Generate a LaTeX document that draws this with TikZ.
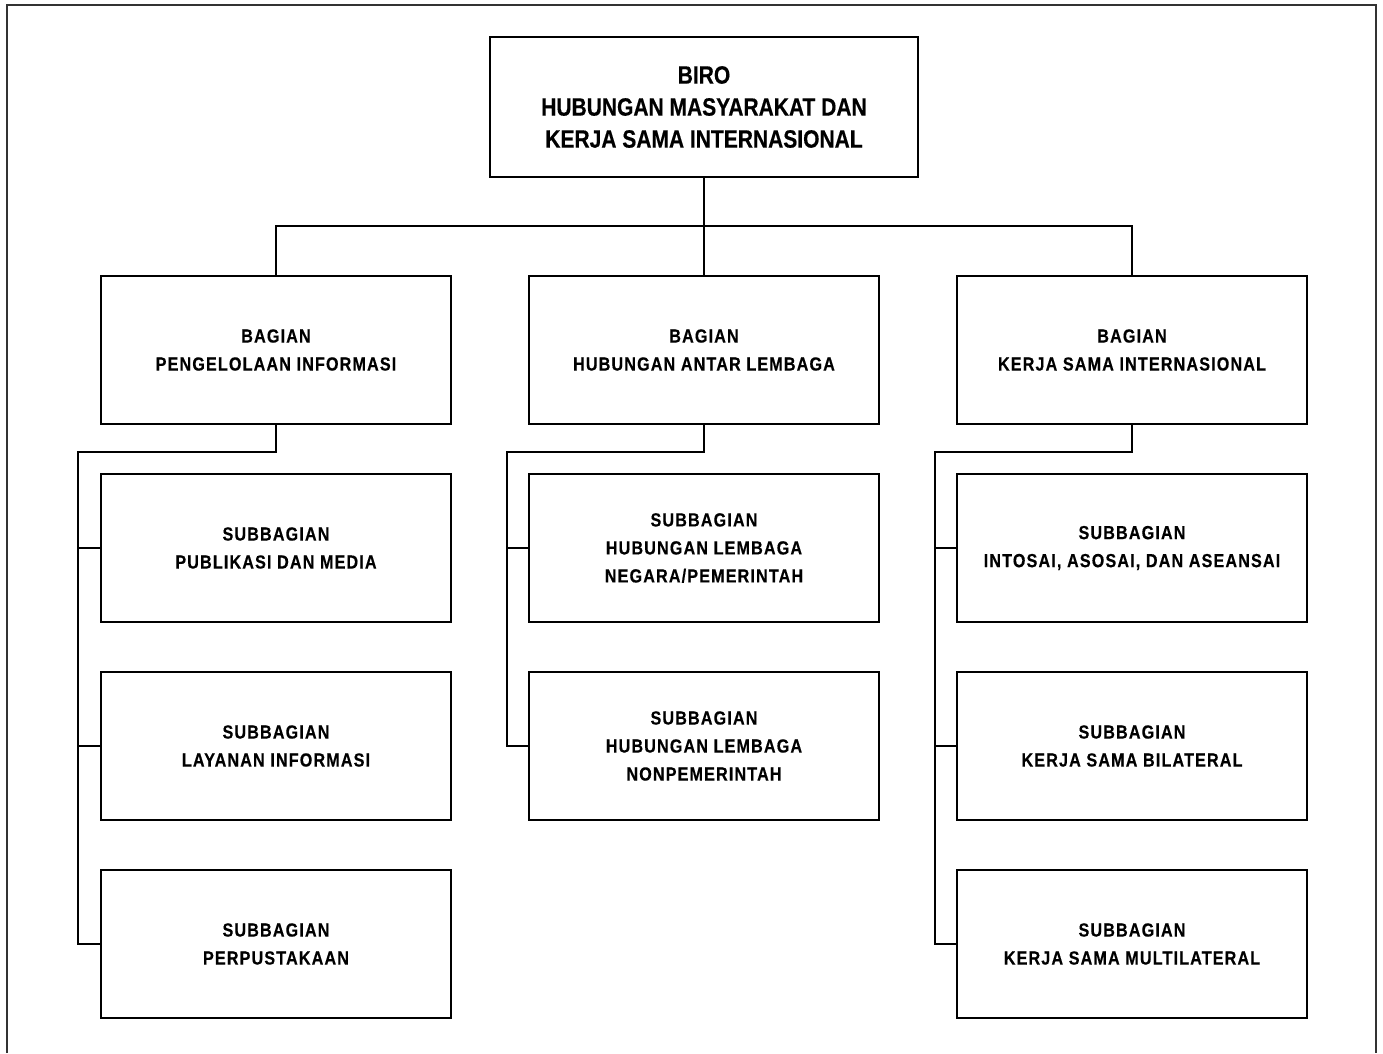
\documentclass[tikz,border=0pt]{standalone}
\usepackage{fontspec}
\setmainfont{Liberation Sans}[FakeStretch=0.85]
\newfontfamily\boxfont{Liberation Sans}[FakeStretch=0.85,LetterSpace=6,FakeBold=0.4]
\newfontfamily\topfont{Liberation Sans}[FakeStretch=0.84,FakeBold=0.4]
\begin{document}
\begin{tikzpicture}[x=1pt,y=-1pt,
  box/.style={draw,line width=2.6pt,minimum width=350pt,minimum height=148pt,inner sep=0pt,align=center,font=\boxfont\bfseries\fontsize{19}{28}\selectfont},
  topbox/.style={draw,line width=2.6pt,minimum width=428pt,minimum height=140pt,inner sep=0pt,align=center,font=\topfont\bfseries\fontsize{25}{32}\selectfont},
  con/.style={line width=2.6pt}]
\useasboundingbox (0,0) rectangle (1383,1053);
\draw[line width=2pt,black!80] (7,1053) -- (7,5) -- (1376,5) -- (1376,1053);
\node[topbox] (biro) at (704,107) {BIRO\\HUBUNGAN MASYARAKAT DAN\\KERJA SAMA INTERNASIONAL};
\node[box] (b1) at (276,350) {BAGIAN\\PENGELOLAAN INFORMASI};
\node[box] (b2) at (704,350) {BAGIAN\\HUBUNGAN ANTAR LEMBAGA};
\node[box] (b3) at (1132,350) {BAGIAN\\KERJA SAMA INTERNASIONAL};
\node[box] (s11) at (276,548) {SUBBAGIAN\\PUBLIKASI DAN MEDIA};
\node[box] (s12) at (276,746) {SUBBAGIAN\\LAYANAN INFORMASI};
\node[box] (s13) at (276,944) {SUBBAGIAN\\PERPUSTAKAAN};
\node[box] (s21) at (704,548) {SUBBAGIAN\\HUBUNGAN LEMBAGA\\NEGARA/PEMERINTAH};
\node[box] (s22) at (704,746) {SUBBAGIAN\\HUBUNGAN LEMBAGA\\NONPEMERINTAH};
\node[box] (s31) at (1132,548) {SUBBAGIAN\\INTOSAI, ASOSAI, DAN ASEANSAI};
\node[box] (s32) at (1132,746) {SUBBAGIAN\\KERJA SAMA BILATERAL};
\node[box] (s33) at (1132,944) {SUBBAGIAN\\KERJA SAMA MULTILATERAL};
\coordinate (bus) at (704,226);
\draw[con] (biro.south) -- (bus);
\draw[con] (b1.north) |- (bus) -| (b3.north);
\draw[con] (bus) -- (b2.north);
% left group
\coordinate (j1) at (78,452);
\draw[con] (b1.south) |- (j1) |- (s13.west);
\draw[con] (j1 |- s11.west) -- (s11.west);
\draw[con] (j1 |- s12.west) -- (s12.west);
% middle group
\coordinate (j2) at (507,452);
\draw[con] (b2.south) |- (j2) |- (s22.west);
\draw[con] (j2 |- s21.west) -- (s21.west);
% right group
\coordinate (j3) at (935,452);
\draw[con] (b3.south) |- (j3) |- (s33.west);
\draw[con] (j3 |- s31.west) -- (s31.west);
\draw[con] (j3 |- s32.west) -- (s32.west);
\end{tikzpicture}
\end{document}
